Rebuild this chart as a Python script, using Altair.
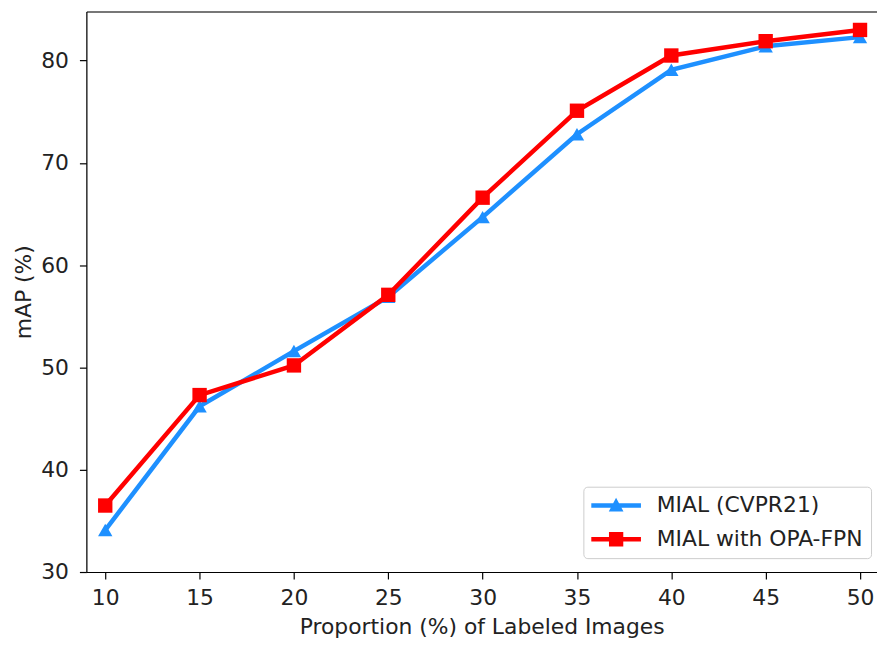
import altair as alt
import pandas as pd

proportion = [10, 15, 20, 25, 30, 35, 40, 45, 50]
mial = [34.1, 46.2, 51.6, 56.9, 64.7, 72.8, 79.1, 81.4, 82.3]
mial_opa = [36.5, 47.3, 50.2, 57.1, 66.6, 75.1, 80.5, 81.9, 83.0]
series_names = ["MIAL (CVPR21)", "MIAL with OPA-FPN"]
series_colors = ["#1E90FF", "#FF0000"]
plot_shapes = ["triangle-up", "square"]
# legend glyphs: a line stub with the marker in its middle (unit box = 22 px)
legend_shapes = [
    "M-1,-0.2H3.55V0.2H-1Z M1.27,-0.72L1.95,0.55L0.6,0.55Z",
    "M-1,-0.2H3.55V0.2H-1Z M0.62,-0.66H1.93V0.66H0.62Z",
]
x_ticks = [10, 15, 20, 25, 30, 35, 40, 45, 50]
y_ticks = [30, 40, 50, 60, 70, 80]

rows = []
for p, a, b in zip(proportion, mial, mial_opa):
    rows.append({"p": p, "v": a, "series": series_names[0]})
    rows.append({"p": p, "v": b, "series": series_names[1]})
df = pd.DataFrame(rows)

FONT = "DejaVu Sans"
FS = 22

xscale = alt.Scale(domain=[9, 50.9], nice=False, zero=False)
yscale = alt.Scale(domain=[30, 84.8], nice=False, zero=False)

y_enc = alt.Y(
    "v:Q",
    scale=yscale,
    axis=alt.Axis(
        title="mAP (%)", values=y_ticks, grid=False, tickSize=7, tickWidth=1.2,
        tickColor="black", domainColor="black", domainWidth=1.2,
        labelPadding=11, titlePadding=5, labelFontSize=FS, titleFontSize=FS,
        labelFont=FONT, titleFont=FONT, labelColor="#222", titleColor="#222",
        titleFontWeight="normal",
    ),
)

x_bottom = alt.X(
    "p:Q",
    scale=xscale,
    axis=alt.Axis(
        title="Proportion (%) of Labeled Images", values=x_ticks, grid=False,
        tickSize=7, tickWidth=1.2, tickColor="black", domainColor="black",
        domainWidth=1.2, labelPadding=9, titlePadding=8, labelFontSize=FS,
        titleFontSize=FS, labelFont=FONT, titleFont=FONT, labelColor="#222",
        titleColor="#222", titleFontWeight="normal", labelFlush=False,
    ),
)
x_top = alt.X(
    "p:Q",
    scale=xscale,
    axis=alt.Axis(
        orient="top", title=None, labels=False, ticks=False, grid=False,
        domainColor="black", domainWidth=1.2,
    ),
)
x_none = alt.X("p:Q", scale=xscale, axis=None)

base = alt.Chart(df)

layers = []
for i, name in enumerate(series_names):
    sub = base.transform_filter(alt.datum.series == name)
    line = sub.mark_line(strokeWidth=4.5, color=series_colors[i]).encode(
        x=x_bottom if i == 0 else x_none, y=y_enc
    )
    pts = sub.mark_point(
        filled=True, opacity=1, size=210, shape=plot_shapes[i], color=series_colors[i]
    ).encode(x=x_top if i == 0 else x_none, y=y_enc)
    layers += [line, pts]

legend_layer = base.transform_filter("false").mark_point(
    filled=True, opacity=1
).encode(
    color=alt.Color(
        "series:N",
        scale=alt.Scale(domain=series_names, range=series_colors),
        legend=alt.Legend(
            title=None, orient="none", legendX=501, legendY=479,
            symbolSize=484, symbolStrokeWidth=0, labelFontSize=FS,
            labelFont=FONT, labelColor="#222", labelOffset=44, rowPadding=12,
            padding=8, strokeColor="#cccccc", fillColor="white",
            cornerRadius=4, symbolOpacity=1, labelLimit=400,
        ),
    ),
    shape=alt.Shape(
        "series:N",
        scale=alt.Scale(domain=series_names, range=legend_shapes),
        legend=alt.Legend(title=None, orient="none", legendX=501, legendY=479),
    ),
)

chart = alt.layer(*layers, legend_layer).resolve_axis(x="independent").resolve_scale(
    color="independent", shape="independent"
).properties(
    width=797, height=565,
    autosize=alt.AutoSizeParams(type="none"),
    padding={"left": 79, "top": 1, "right": 0, "bottom": 70},
).configure_view(stroke=None).configure(background="white")

chart.save("out.html", embed_options={"renderer": "svg", "actions": False})
